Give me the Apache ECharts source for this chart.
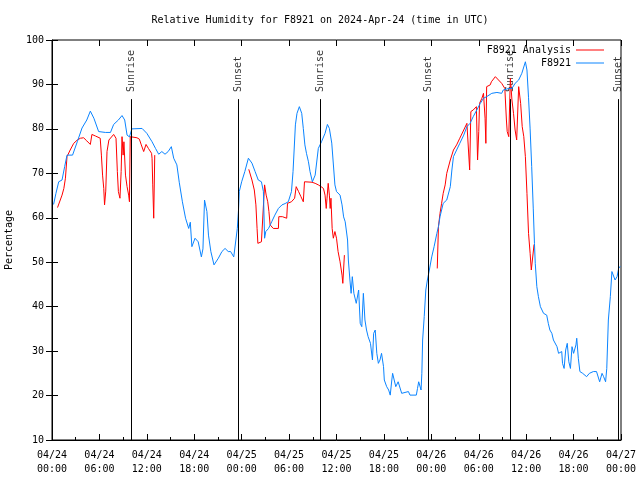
<!DOCTYPE html>
<html>
<head>
<meta charset="utf-8">
<script src="https://cdn.jsdelivr.net/npm/echarts@6/dist/echarts.min.js"></script>
<style>html,body{margin:0;padding:0;background:#fff}#c{width:640px;height:480px}</style>
</head>
<body>
<div id="c"></div>
<script>
// hours since 2024-04-24 00:00 UTC
var xTickLabels = ['04/24\n00:00','04/24\n06:00','04/24\n12:00','04/24\n18:00','04/25\n00:00','04/25\n06:00','04/25\n12:00','04/25\n18:00','04/26\n00:00','04/26\n06:00','04/26\n12:00','04/26\n18:00','04/27\n00:00'];

var blueHours = [0.2,0.5,0.85,1.27,1.6,1.9,2.6,3.2,3.8,4.4,4.85,5.3,5.9,6.75,7.4,7.8,8.4,8.86,9.2,9.5,9.8,10.1,11.4,12.0,12.66,13.1,13.5,13.9,14.3,14.7,15.1,15.4,15.8,16.1,16.5,16.9,17.3,17.5,17.7,18.1,18.5,18.9,19.1,19.3,19.6,19.8,20.1,20.5,21.05,21.5,21.9,22.3,22.6,23.0,23.25,23.45,23.6,23.7,24.0,24.4,24.85,25.3,25.7,26.1,26.5,26.75,26.9,27.05,27.4,27.8,28.2,28.65,29.1,29.5,29.9,30.3,30.5,30.8,31.0,31.3,31.6,31.8,32.0,32.2,32.45,32.65,32.95,33.3,33.7,34.1,34.55,34.85,35.1,35.4,35.6,35.8,36.0,36.2,36.45,36.7,36.9,37.1,37.4,37.5,37.7,37.85,38.0,38.2,38.5,38.8,39.0,39.2,39.4,39.6,39.8,40.0,40.3,40.55,40.7,40.9,41.1,41.3,41.5,41.7,41.95,42.05,42.35,42.6,42.8,43.0,43.1,43.3,43.5,43.8,44.0,44.25,44.5,45.1,45.3,46.1,46.25,46.4,46.7,46.8,46.9,47.1,47.3,47.5,47.75,48.05,48.35,48.7,48.9,49.1,49.5,49.95,50.4,50.6,50.8,51.2,51.6,52.1,52.5,52.9,53.3,53.75,54.2,54.6,55.0,55.65,56.3,56.9,57.1,57.8,58.2,58.6,59.05,59.45,59.9,60.1,60.3,60.5,60.7,60.9,61.05,61.15,61.35,61.55,61.8,62.2,62.4,62.6,62.8,63.0,63.25,63.45,63.65,63.9,64.1,64.3,64.5,64.6,64.8,65.0,65.2,65.4,65.6,65.8,66.0,66.3,66.4,66.6,66.8,67.15,67.4,67.65,68.0,68.5,68.9,69.3,69.6,69.8,70.05,70.2,70.4,70.65,70.85,71.05,71.25,71.5,71.7,71.9];
var blueValues = [63,65.5,68.1,68.5,71.5,74.1,74.1,77.1,80.2,82,84,82.4,79.4,79.2,79.2,81,82,83,82,78.6,78.2,80,80.1,79,77.1,75.6,74.3,74.9,74.3,74.9,76,73.4,71.9,68,63.6,59.9,57.6,59,53.5,55.4,54.6,51.2,53,64,61.4,56.1,52.4,49.4,50.9,52.4,53.1,52.4,52.4,51.2,51.2,57.6,61.7,65.9,68.1,70.4,73.4,72.3,70.4,68.5,68.1,65.9,55.4,56.9,57.6,59.1,60.6,62.1,62.9,63.2,63.6,65.9,70.4,80.9,83.5,85,83.5,80.1,76.4,74.5,72.6,70.4,68.1,69.6,75.6,77.1,79,81,80.1,76.8,77,67.4,65.9,66,65.1,62.9,60.2,59.1,55,50.5,46,43,46.75,43,40.75,43.75,36.25,35.5,43,37,34.75,33.25,31.75,28,34,34.75,29.5,27.25,28,29.5,26.5,23.5,22,21.25,20.1,23.5,25,23.5,22,23.1,23,20.5,20.9,20.9,20.1,20.1,21.6,23.1,21.25,25,32.5,37.75,43.75,46,48.25,51.2,53.5,56.5,58,60.25,63.25,64,67,70.75,73.75,75.25,76.75,78.6,80.5,81.25,82.75,84.25,85.75,86.9,87.25,88,88.2,88,88.75,89.1,89.1,90.25,91,92.5,95.1,93.25,87,80,71.5,62,54.25,49.75,44.5,42.25,40,38.5,38.75,38.1,36.25,34.75,34,32.5,32.75,31,29.5,29.1,29.9,27.25,26.1,30.25,31.75,27.6,26.1,31,29.5,31.4,32.9,28.4,25.4,25,25,24.25,25,25.4,25.4,23.1,25,24.25,23.1,26.1,37,42.25,47.9,47.9,46,46.75,48.6,49.1];

var redHours = [0.7,0.85,1.27,1.5,1.7,1.9,2.3,2.75,3.2,3.6,4.0,4.4,4.85,5.05,5.5,6.1,6.25,6.4,6.55,6.65,6.8,6.96,7.2,7.8,8.1,8.27,8.4,8.6,8.75,8.86,9.0,9.1,9.3,9.5,9.7,9.8,9.9,10.1,10.75,11.05,11.3,11.6,11.9,12.2,12.6,12.66,12.75,12.87,13.0,
  18,
  24.9,25.3,25.6,25.8,25.95,26.05,26.5,26.7,26.9,27.1,27.3,27.45,27.6,27.8,28.0,28.65,28.7,29.15,29.7,29.8,30.3,30.7,30.9,31.2,31.5,31.8,31.95,32.2,32.9,33.3,33.7,34.05,34.35,34.55,34.7,34.8,34.95,35.1,35.2,35.3,35.45,35.6,35.8,36.0,36.2,36.45,36.7,36.8,37.0,
  42,
  48.75,48.9,49.1,49.3,49.5,49.75,49.95,50.4,50.8,51.2,51.6,52.1,52.5,52.75,52.85,53.0,53.3,53.7,53.85,54.0,54.1,54.4,54.6,54.8,54.9,55.0,55.45,55.6,56.1,56.5,56.9,57.3,57.5,57.6,57.8,58.0,58.2,58.4,58.6,58.8,59.05,59.3,59.5,59.7,59.9,60.1,60.3,60.5,60.65,60.9,61.0];
var redValues = [62.3,62.3,65.1,66.6,68.9,73.75,75.25,76.75,77.5,77.9,78,77.3,76.5,78.75,78.4,77.9,74.1,69.6,66.6,62.9,66,74.9,77.5,78.75,77.9,70.4,65.9,64.4,70.4,78.25,74.1,77.1,69.6,67,65.1,63.6,78.25,78,78,77.7,76.4,74.9,76.5,75.6,74.5,73.4,67.4,59.9,74.1,
  null,
  70.9,68.5,66.25,62.9,57.6,54.25,54.6,54.6,67.4,65.1,63.6,61.4,58.4,58.6,57.6,57.6,60.25,60.25,59.9,63.25,63.6,64.4,67,65.9,64.75,63.6,68.1,68,68,67.75,67.4,67,66.6,65.1,62.1,64.4,67.75,65.1,62.1,64.4,57.6,55.4,56.9,55.4,52.4,50.1,47.1,45.25,51.6,
  null,
  48.6,58,61,63.25,65.5,67.4,70,73,75.25,76.4,77.9,79.75,81.25,81.5,70.75,83.9,84.25,85,73,79.4,85.75,86.9,88,82.4,76.75,89.5,89.9,90.6,91.75,91,90.25,89.1,82,79.4,78.25,91.4,86.5,83.5,79.75,77.5,89.5,85.75,80.5,78.25,73.75,65.5,56.5,52,48.25,48.25,54];

var sunHours = [10.04, 23.57, 33.95, 47.62, 58.04, 71.66];
var sunNames = ['Sunrise','Sunset','Sunrise','Sunset','Sunrise','Sunset'];

var FONT = 'DejaVu Sans Mono';

function pairs(hs, vs) {
  var out = [];
  for (var i = 0; i < hs.length; i++) out.push([hs[i], vs[i] === null ? '-' : vs[i]]);
  return out;
}

var markData = sunHours.map(function (h) {
  return [{ coord: [h, 10] }, { coord: [h, 86.7] }];
});
var labelData = sunHours.map(function (h, i) {
  return { value: [h, 88.3], name: sunNames[i] };
});

var chart = echarts.init(document.getElementById('c'), null, { renderer: 'canvas' });
chart.setOption({
  animation: false,
  backgroundColor: '#ffffff',
  title: {
    text: 'Relative Humidity for F8921 on 2024-Apr-24 (time in UTC)',
    left: 'center', top: 10,
    textStyle: { fontFamily: FONT, fontSize: 10, fontWeight: 'normal', color: '#000' }
  },
  legend: [
    { data: ['F8921 Analysis'], right: 31, top: 40, orient: 'vertical', align: 'right',
      itemWidth: 28, itemHeight: 1, icon: 'rect', selectedMode: false,
      textStyle: { fontFamily: FONT, fontSize: 10, color: '#000' } },
    { data: ['F8921'], right: 31, top: 53, orient: 'vertical', align: 'right',
      itemWidth: 28, itemHeight: 1, icon: 'rect', selectedMode: false,
      textStyle: { fontFamily: FONT, fontSize: 10, color: '#000' } }
  ],
  grid: { left: 52, right: 19, top: 40, bottom: 40, outerBoundsMode: 'none', containLabel: false,
    show: true, borderColor: '#000', borderWidth: 1, backgroundColor: 'transparent' },
  xAxis: [
    { type: 'value', min: 0, max: 72, interval: 6,
      axisLine: { show: true, lineStyle: { color: '#000', width: 1 } },
      axisTick: { show: true, inside: true, length: 6, lineStyle: { color: '#000' } },
      minorTick: { show: true, splitNumber: 2, length: 3, lineStyle: { color: '#000' } },
      splitLine: { show: false },
      axisLabel: { margin: 8, lineHeight: 14, color: '#000', fontFamily: FONT, fontSize: 10,
        formatter: function (v) { return xTickLabels[Math.round(v / 6)]; } } },
    { type: 'value', min: 0, max: 72, interval: 6, position: 'top',
      axisLine: { show: false },
      axisTick: { show: true, inside: true, length: 6, lineStyle: { color: '#000' } },
      splitLine: { show: false }, axisLabel: { show: false } }
  ],
  yAxis: [
    { type: 'value', min: 10, max: 100, interval: 10, name: 'Percentage', nameLocation: 'middle', nameGap: 38,
      nameTextStyle: { fontFamily: FONT, fontSize: 10, color: '#000' },
      axisLine: { show: true, lineStyle: { color: '#000', width: 1 } },
      axisTick: { show: true, inside: true, length: 6, lineStyle: { color: '#000' } },
      splitLine: { show: false },
      axisLabel: { margin: 8, color: '#000', fontFamily: FONT, fontSize: 10 } },
    { type: 'value', min: 10, max: 100, interval: 10, position: 'right',
      axisLine: { show: false },
      axisTick: { show: true, inside: true, length: 6, lineStyle: { color: '#000' } },
      splitLine: { show: false }, axisLabel: { show: false } }
  ],
  series: [
    { name: 'F8921 Analysis', type: 'line', data: pairs(redHours, redValues), showSymbol: false, symbol: 'none',
      connectNulls: false, lineStyle: { color: '#ff0000', width: 1 }, itemStyle: { color: '#ff0000' } },
    { name: 'F8921', type: 'line', data: pairs(blueHours, blueValues), showSymbol: false, symbol: 'none',
      lineStyle: { color: '#0a84ff', width: 1 }, itemStyle: { color: '#0a84ff' },
      markLine: { silent: true, symbol: ['none', 'none'], label: { show: false },
        lineStyle: { color: '#000', width: 1, type: 'solid' }, data: markData } },
    { name: 'sun', type: 'scatter', data: labelData, symbol: 'circle', symbolSize: 0,
      itemStyle: { color: 'rgba(0,0,0,0)' }, silent: true,
      label: { show: true, position: 'inside', rotate: 90, align: 'left', verticalAlign: 'middle',
        fontFamily: FONT, fontSize: 10, color: '#000', formatter: function (p) { return p.name; } } }
  ]
});
</script>
</body>
</html>
